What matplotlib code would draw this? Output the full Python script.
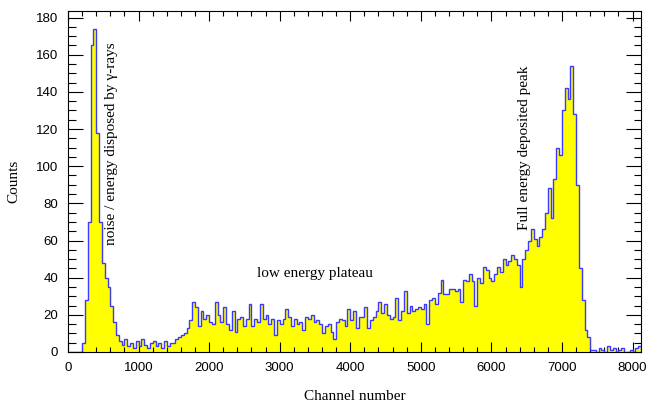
import numpy as np
import matplotlib
matplotlib.use("Agg")
import matplotlib.pyplot as plt
from matplotlib.ticker import MultipleLocator

# ---- data (counts per 40-channel bin, starting at channel 0) ----
bin_width = 40
noise_peak = [0, 0, 0, 0, 0, 5, 28, 70, 165, 174, 118, 70, 48, 40, 35, 25, 16, 9]
noise_floor = [6, 4, 7, 3, 5, 2, 6, 3, 7, 4, 2, 5, 6, 3, 5, 2, 6, 3, 5, 5,
               7, 8, 9, 10, 13, 17, 27]
plateau = [24, 14, 22, 18, 20, 16, 15, 27, 20, 16,
           24, 15, 12, 22, 11, 18, 19, 14, 18, 26,
           14, 18, 16, 26, 18, 20, 15, 18, 9, 17,
           15, 18, 23, 19, 14, 18, 15, 16, 12, 19,
           18, 20, 16, 17, 15, 10, 14, 15, 11, 7,
           16, 18, 17, 14, 23, 17, 22, 13, 19]
plateau_rise = [19, 24, 13, 17, 19, 22, 27, 21, 26, 20,
                18, 19, 29, 17, 22, 33, 21, 25, 22, 23,
                24, 23, 26, 15, 28, 29, 26, 32, 39, 31,
                31, 34]
pre_peak = [34, 33, 34, 27, 39, 38, 42, 38, 25, 40,
            37, 46, 44, 40, 38, 42, 46, 43, 50, 47,
            49, 52, 50, 47, 35, 50, 55, 60, 66, 61,
            57, 62, 66]
full_peak = [75, 88, 72, 93, 110, 106, 130, 142, 136, 154, 128, 90, 45, 28, 12, 8, 1]
tail = [1, 0, 2, 1, 0, 3, 1, 2, 0, 1, 2, 0, 0, 1, 0, 2, 3]

counts = np.array(noise_peak + noise_floor + plateau + plateau_rise
                  + pre_peak + full_peak + tail, dtype=float)
edges = bin_width * np.arange(len(counts) + 1)

# ---- figure ----
fig = plt.figure(figsize=(6.51, 4.08), dpi=100)
ax = fig.add_axes([68 / 651, 1 - 352 / 408, (641 - 68) / 651, (352 - 11) / 408])

ax.stairs(counts, edges, fill=True, color="#ffff00", baseline=0, zorder=1)
ax.stairs(counts, edges, color="#3a3aff", linewidth=1.0, baseline=0, zorder=2)

ax.set_xlim(0, 8120)
ax.set_ylim(0, 183.5)

ax.xaxis.set_major_locator(MultipleLocator(1000))
ax.xaxis.set_minor_locator(MultipleLocator(200))
ax.yaxis.set_major_locator(MultipleLocator(20))
ax.yaxis.set_minor_locator(MultipleLocator(5))

ax.tick_params(axis="both", which="both", direction="in", top=True, right=True,
               colors="black", width=0.8)
ax.tick_params(axis="x", which="major", length=7.2, pad=7)
ax.tick_params(axis="x", which="minor", length=3.6)
ax.tick_params(axis="y", which="major", length=10.8, pad=7)
ax.tick_params(axis="y", which="minor", length=5.4)

for lab in ax.get_xticklabels() + ax.get_yticklabels():
    lab.set_fontfamily("Liberation Sans")
    lab.set_fontsize(9.5)

for sp in ax.spines.values():
    sp.set_linewidth(0.8)
    sp.set_color("black")

serif = "Liberation Serif"
ax.set_xlabel("Channel number", fontfamily=serif, fontsize=11, labelpad=12)
ax.set_ylabel("Counts", fontfamily=serif, fontsize=11, labelpad=11)

ax.text(610, 112, "noise / energy disposed by \u03b3-rays", rotation=90,
        ha="center", va="center", fontfamily=serif, fontsize=11)
ax.text(3500, 42, "low energy plateau", ha="center", va="center",
        fontfamily=serif, fontsize=11)
ax.text(6470, 110, "Full energy deposited peak", rotation=90,
        ha="center", va="center", fontfamily=serif, fontsize=11)

fig.savefig("out.png", dpi=100)
